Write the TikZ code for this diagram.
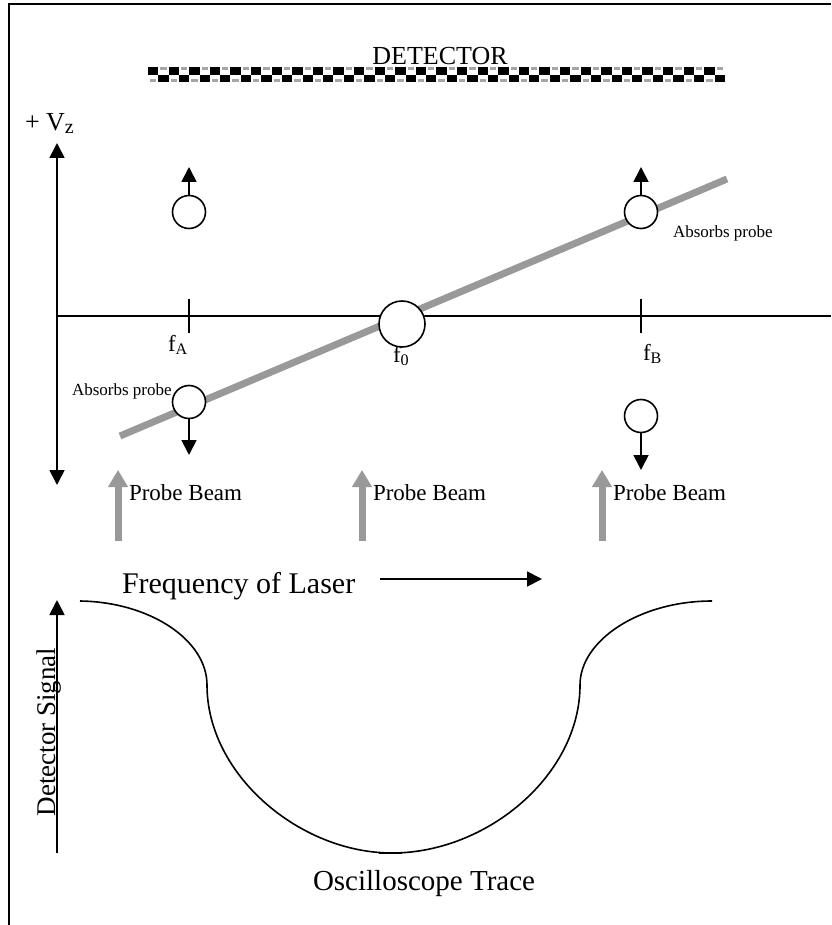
\documentclass[tikz,border=0pt]{standalone}
\usepackage{fontspec}
\setmainfont{Liberation Serif}
\usetikzlibrary{arrows.meta}
\begin{document}
\begin{tikzpicture}[x=1pt,y=-1pt,
  txt/.style={inner sep=0pt, outer sep=0pt},
  blk/.style={line width=1.6pt, black},
  arr/.style={line width=1.8pt, -{Triangle[length=15pt,width=15pt]}},
  circ/.style={circle, draw, line width=1.6pt, fill=white, inner sep=0pt},
  probe/.style={line width=7pt, draw=black!40, -{Triangle[length=17pt,width=19pt]}},
  grayline/.style={line width=7pt, black!40},
]
\useasboundingbox (0,0) rectangle (831,925);
% frame
\coordinate (fb) at (9,925); \coordinate (fc) at (9,4); \coordinate (fr) at (831,4);
\draw[line width=1.5pt] (fb) -- (fc) -- (fr);

% detector
\node[txt, anchor=base, font=\fontsize{26}{28}\selectfont] (det) at (440,65) {DETECTOR};
\foreach \i in {0,...,55} {
  \pgfmathsetmacro{\xa}{148+\i*10.3}
  \pgfmathsetmacro{\xb}{148+(\i+1)*10.3}
  \ifodd\i
    \fill[black] (\xa,75) rectangle (\xb,82);
    \fill[black!35] (\xa+2,67) rectangle (\xb-2,70);
  \else
    \fill[black] (\xa,67) rectangle (\xb,75);
    \fill[black!35] (\xa+2,79) rectangle (\xb-2,82);
  \fi
}

% velocity axis
\node[txt, anchor=base west, font=\fontsize{26}{28}\selectfont] (vz) at (25,131) {+ V\raisebox{-3pt}{\fontsize{20}{22}\selectfont z}};
\coordinate (ytop) at (57,143); \coordinate (ybot) at (57,485);
\draw[line width=1.8pt, {Triangle[length=15pt,width=15pt]}-{Triangle[length=15pt,width=15pt]}] (ybot) -- (ytop);
\coordinate (xl) at (57,316); \coordinate (xr) at (831,316);
\draw[blk] (xl) -- (xr);
\coordinate (tA1) at (189,299); \coordinate (tA2) at (189,333);
\coordinate (tB1) at (641,299); \coordinate (tB2) at (641,333);
\draw[blk] (tA1) -- (tA2);
\draw[blk] (tB1) -- (tB2);
\node[txt, anchor=base west, font=\fontsize{23}{25}\selectfont] (fA) at (168,351) {f\textsubscript{A}};
\node[txt, anchor=base west, font=\fontsize{23}{25}\selectfont] (f0) at (393,362) {f\textsubscript{0}};
\node[txt, anchor=base west, font=\fontsize{23}{25}\selectfont] (fB) at (643,360) {f\textsubscript{B}};

% gray line
\coordinate (g1) at (120,436); \coordinate (g2) at (727,179);
\draw[grayline] (g1) -- (g2);

% absorbs probe labels
\node[txt, anchor=base west, font=\fontsize{17}{19}\selectfont] (abL) at (72,395) {Absorbs probe};
\node[txt, anchor=base west, font=\fontsize{17}{19}\selectfont] (abR) at (673,237) {Absorbs probe};

% atoms
\node[circ, minimum size=33pt] (cA) at (189,212) {};
\node[circ, minimum size=33pt] (cB) at (641,212) {};
\node[circ, minimum size=46pt] (c0) at (402,324) {};
\node[circ, minimum size=33pt] (dA) at (189,402) {};
\node[circ, minimum size=33pt] (dB) at (641,416) {};
\coordinate (aA) at (189,167); \coordinate (aB) at (641,167);
\coordinate (bA) at (189,455); \coordinate (bB) at (641,470);
\draw[arr] (cA.north) -- (aA);
\draw[arr] (cB.north) -- (aB);
\draw[arr] (dA.south) -- (bA);
\draw[arr] (dB.south) -- (bB);

% probe beams
\coordinate (p1s) at (118,541); \coordinate (p1e) at (118,470);
\coordinate (p2s) at (362,541); \coordinate (p2e) at (362,470);
\coordinate (p3s) at (602,541); \coordinate (p3e) at (602,470);
\draw[probe] (p1s) -- (p1e);
\draw[probe] (p2s) -- (p2e);
\draw[probe] (p3s) -- (p3e);
\node[txt, anchor=base west, font=\fontsize{23}{25}\selectfont] (pb1) at (129,500) {Probe Beam};
\node[txt, anchor=base west, font=\fontsize{23}{25}\selectfont] (pb2) at (373,500) {Probe Beam};
\node[txt, anchor=base west, font=\fontsize{23}{25}\selectfont] (pb3) at (613,500) {Probe Beam};

% frequency
\node[txt, anchor=base west, font=\fontsize{30}{32}\selectfont] (freq) at (122,593) {Frequency of Laser};
\coordinate (fa1) at (380,579); \coordinate (fa2) at (542,579);
\draw[arr] (fa1) -- (fa2);

% detector signal axis
\node[txt, anchor=base, rotate=90, font=\fontsize{27}{29}\selectfont] (ds) at (55,732) {Detector Signal};
\coordinate (s1) at (57,853); \coordinate (s2) at (57,600);
\draw[arr] (s1) -- (s2);

% trace
\coordinate (t0) at (80,601); \coordinate (t1) at (207,685); \coordinate (t2) at (392,853);
\coordinate (t3) at (580,685); \coordinate (t4) at (712,601);
\draw[blk] (t0) .. controls (150,602) and (207,640) .. (t1)
  .. controls (207,775) and (300,853) .. (t2)
  .. controls (487,853) and (580,775) .. (t3)
  .. controls (580,640) and (640,601) .. (t4);
\coordinate (m1) at (379,853); \coordinate (m2) at (402,853);
\draw[line width=2.4pt] (m1) -- (m2);
\node[txt, anchor=base west, font=\fontsize{29}{31}\selectfont] (osc) at (313,890) {Oscilloscope Trace};
\end{tikzpicture}
\end{document}
